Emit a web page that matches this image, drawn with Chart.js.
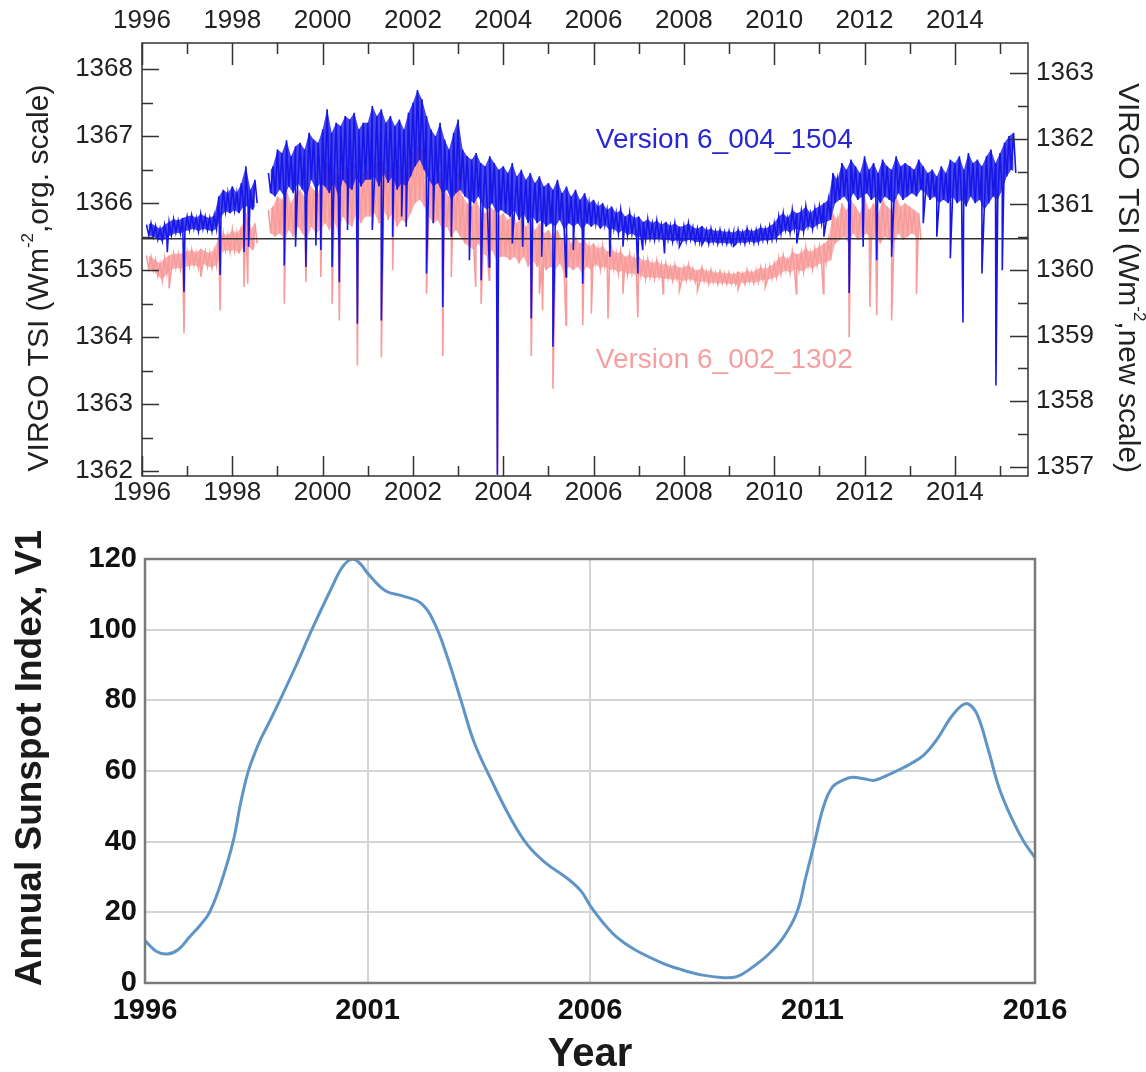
<!DOCTYPE html>
<html><head><meta charset="utf-8">
<script src="https://cdn.jsdelivr.net/npm/chart.js@4.4.0/dist/chart.umd.min.js"></script>
<style>
html,body{margin:0;padding:0;background:#fff;width:1146px;height:1072px;overflow:hidden}
#c1{position:absolute;left:0;top:0}
#c2{position:absolute;left:0;top:505px}
</style></head><body>
<canvas id="c1" width="1146" height="520"></canvas>
<canvas id="c2" width="1146" height="567"></canvas>
<script>
// ---------------- DATA: top panel (VIRGO TSI) ----------------
const yearTicks = [1996,1998,2000,2002,2004,2006,2008,2010,2012,2014];
const leftTicks = [1362,1363,1364,1365,1366,1367,1368];
const rightTicks = [1357,1358,1359,1360,1361,1362,1363];
const refLevel = 1365.47;

const blueStart = 1996.1; // 0.1-year steps
const blueHi = [
1365.68,1365.70,1365.66,1365.62,1365.68,1365.72,1365.76,1365.74,1365.78,
1365.80,1365.82,1365.78,1365.84,1365.80,1365.78,1365.82,1366.10,1366.20,1366.15,
1366.25,1366.15,1366.30,1366.55,1366.20,1366.35,null,null,1366.45,1366.55,
1366.80,1366.75,1366.94,1366.70,1366.85,1366.90,1366.80,1367.05,1366.95,1366.90,
1367.10,1367.40,1367.05,1367.20,1367.15,1367.30,1367.25,1367.35,1367.10,1367.20,
1367.20,1367.45,1367.30,1367.40,1367.20,1367.30,1367.15,1367.25,1367.10,1367.35,
1367.50,1367.69,1367.55,1367.30,1367.10,1367.00,1367.20,1366.95,1366.80,1367.05,
1367.25,1366.80,1366.70,1366.65,1366.75,1366.60,1366.55,1366.70,1366.60,1366.50,
1366.55,1366.45,1366.60,1366.40,1366.50,1366.35,1366.45,1366.30,1366.40,1366.25,
1366.30,1366.20,1366.35,1366.15,1366.25,1366.10,1366.20,1366.05,1366.15,1366.00,
1366.05,1365.95,1366.00,1365.90,1365.95,1365.85,1365.90,1365.80,1365.85,1365.78,
1365.80,1365.72,1365.76,1365.70,1365.74,1365.68,1365.72,1365.66,1365.70,1365.65,
1365.66,1365.70,1365.64,1365.62,1365.66,1365.60,1365.62,1365.58,1365.60,1365.57,
1365.58,1365.56,1365.60,1365.57,1365.62,1365.58,1365.60,1365.64,1365.62,1365.66,
1365.70,1365.80,1365.85,1365.78,1365.90,1365.85,1365.88,1365.95,1365.85,1365.92,
1365.95,1366.00,1366.05,1366.45,1366.35,1366.60,1366.50,1366.65,1366.55,1366.45,
1366.70,1366.50,1366.60,1366.45,1366.65,1366.55,1366.50,1366.70,1366.55,1366.60,
1366.55,1366.50,1366.65,1366.55,1366.45,1366.50,1366.40,1366.55,1366.45,1366.65,
1366.60,1366.70,1366.50,1366.75,1366.60,1366.65,1366.55,1366.70,1366.80,1366.60,
1366.75,1366.90,1367.00,1367.05
];
const blueLo = [
1365.52,1365.50,1365.46,1365.44,1365.50,1365.52,1365.56,1365.55,1365.58,
1365.60,1365.62,1365.58,1365.62,1365.60,1365.58,1365.62,1365.80,1365.88,1365.85,
1365.90,1365.85,1365.95,1365.95,1365.90,1366.00,null,null,1366.15,1366.10,
1366.20,1366.10,1366.25,1366.15,1366.30,1366.20,1366.10,1366.35,1366.20,1366.30,
1366.25,1366.15,1366.30,1366.10,1366.35,1366.25,1366.20,1366.40,1366.25,1366.35,
1366.35,1366.40,1366.25,1366.45,1366.30,1366.40,1366.20,1366.30,1366.25,1366.40,
1366.55,1366.65,1366.50,1366.35,1366.25,1366.30,1366.15,1366.20,1366.05,1366.15,
1366.20,1366.10,1366.05,1366.00,1366.10,1365.95,1365.90,1366.00,1365.85,1365.90,
1365.85,1365.80,1365.90,1365.75,1365.85,1365.70,1365.80,1365.70,1365.75,1365.65,
1365.70,1365.65,1365.75,1365.60,1365.70,1365.65,1365.70,1365.60,1365.70,1365.65,
1365.70,1365.62,1365.68,1365.60,1365.62,1365.55,1365.60,1365.52,1365.55,1365.50,
1365.50,1365.45,1365.48,1365.46,1365.48,1365.44,1365.46,1365.43,1365.45,1365.42,
1365.44,1365.46,1365.42,1365.42,1365.44,1365.40,1365.42,1365.40,1365.41,1365.40,
1365.40,1365.39,1365.42,1365.40,1365.43,1365.41,1365.42,1365.45,1365.44,1365.46,
1365.48,1365.55,1365.60,1365.56,1365.62,1365.60,1365.58,1365.66,1365.62,1365.68,
1365.70,1365.72,1365.75,1366.00,1366.05,1366.10,1366.00,1366.15,1366.05,1366.10,
1366.15,1366.05,1366.10,1366.00,1366.10,1366.05,1366.00,1366.15,1366.05,1366.10,
1366.15,1366.10,1366.20,1366.15,1366.05,1366.10,1366.00,1366.05,1366.00,1366.10,
1366.00,1366.05,1365.95,1366.10,1366.00,1366.05,1365.90,1366.00,1366.10,1366.05,
1366.20,1366.40,1366.50,1366.45
];
const blueDips = [
[1996.56,1365.27],[1996.93,1364.67],[1997.73,1364.93],[1998.26,1365.27],[1998.36,1365.35],
[1999.15,1365.07],[1999.40,1365.35],[1999.63,1365.05],[1999.85,1365.37],[1999.96,1365.30],
[2000.21,1365.05],[2000.37,1364.82],[2000.55,1365.60],[2000.77,1364.20],[2001.10,1365.60],
[2001.30,1364.25],[2001.55,1365.50],[2001.75,1365.80],[2001.85,1365.65],
[2002.30,1364.95],[2002.45,1365.70],[2002.66,1364.45],[2002.85,1365.50],[2003.25,1365.15],
[2003.51,1364.85],[2003.69,1365.05],[2003.87,1361.95],
[2004.20,1365.40],[2004.43,1365.35],[2004.62,1364.28],[2004.85,1365.20],[2005.10,1363.86],
[2005.39,1364.90],[2005.55,1365.30],[2005.76,1364.80],
[2006.36,1365.20],[2006.65,1365.35],[2006.98,1364.95],[2007.09,1365.30],[2007.57,1365.25],[2007.90,1365.35],
[2008.40,1365.38],[2009.10,1365.36],[2010.50,1365.40],[2011.10,1365.50],
[2011.66,1364.66],[2011.97,1365.35],[2012.27,1365.15],[2012.60,1365.20],[2013.30,1365.70],[2013.60,1365.50],
[2013.90,1365.18],[2014.18,1364.22],[2014.60,1364.95],[2014.91,1363.28],[2015.05,1365.00]
];

const pinkStart = 1996.1;
const pinkHi = [
1365.22,1365.20,1365.15,1365.10,1365.18,1365.22,1365.25,1365.24,1365.26,
1365.28,1365.30,1365.26,1365.32,1365.28,1365.26,1365.30,1365.50,1365.55,1365.52,
1365.60,1365.55,1365.65,1365.85,1365.60,1365.70,null,null,1365.90,1365.95,
1366.10,1366.05,1366.20,1366.00,1366.15,1366.20,1366.10,1366.30,1366.20,1366.15,
1366.35,1366.60,1366.30,1366.45,1366.40,1366.55,1366.50,1366.60,1366.35,1366.45,
1366.50,1366.70,1366.60,1366.65,1366.50,1366.55,1366.45,1366.55,1366.40,1366.60,
1366.75,1366.85,1366.80,1366.55,1366.35,1366.30,1366.45,1366.20,1366.10,1366.30,
1366.45,1366.10,1366.00,1365.95,1366.05,1365.90,1365.85,1365.95,1365.90,1365.80,
1365.85,1365.75,1365.85,1365.70,1365.80,1365.65,1365.75,1365.60,1365.70,1365.55,
1365.60,1365.50,1365.60,1365.45,1365.55,1365.40,1365.50,1365.40,1365.45,1365.35,
1365.40,1365.32,1365.36,1365.28,1365.32,1365.25,1365.28,1365.20,1365.24,1365.18,
1365.20,1365.14,1365.16,1365.10,1365.14,1365.08,1365.10,1365.05,1365.08,1365.04,
1365.04,1365.08,1365.02,1365.00,1365.04,1364.98,1365.00,1364.96,1364.98,1364.95,
1364.96,1364.94,1364.98,1364.95,1365.00,1364.97,1365.00,1365.04,1365.02,1365.06,
1365.10,1365.18,1365.22,1365.16,1365.28,1365.24,1365.26,1365.34,1365.26,1365.32,
1365.35,1365.40,1365.45,1365.85,1365.75,1366.00,1365.90,1366.05,1365.95,1365.85,
1366.10,1365.90,1366.00,1365.85,1366.05,1365.95,1365.90,1366.10,1365.95,1366.00,
1365.95,1365.90,1365.85
];
const pinkLo = [
1365.02,1365.00,1364.92,1364.85,1364.95,1365.00,1365.04,1365.02,1365.05,
1365.06,1365.08,1365.04,1365.10,1365.06,1365.04,1365.08,1365.25,1365.30,1365.28,
1365.30,1365.25,1365.35,1365.35,1365.30,1365.40,null,null,1365.55,1365.50,
1365.55,1365.45,1365.60,1365.50,1365.65,1365.55,1365.45,1365.65,1365.55,1365.60,
1365.70,1365.60,1365.75,1365.55,1365.80,1365.70,1365.65,1365.85,1365.70,1365.80,
1365.80,1365.85,1365.70,1365.90,1365.75,1365.85,1365.65,1365.75,1365.70,1365.85,
1366.00,1366.05,1365.95,1365.80,1365.70,1365.75,1365.60,1365.65,1365.50,1365.60,
1365.50,1365.40,1365.35,1365.30,1365.40,1365.25,1365.20,1365.30,1365.15,1365.20,
1365.20,1365.15,1365.20,1365.10,1365.20,1365.05,1365.15,1365.05,1365.10,1365.00,
1365.05,1365.00,1365.10,1364.95,1365.05,1365.00,1365.05,1364.95,1365.05,1365.00,
1365.10,1365.02,1365.06,1365.00,1365.02,1364.96,1365.00,1364.94,1364.96,1364.92,
1364.92,1364.88,1364.90,1364.88,1364.90,1364.86,1364.88,1364.85,1364.87,1364.84,
1364.85,1364.87,1364.83,1364.82,1364.84,1364.80,1364.82,1364.80,1364.81,1364.80,
1364.80,1364.79,1364.82,1364.80,1364.83,1364.81,1364.83,1364.86,1364.85,1364.88,
1364.90,1364.95,1365.00,1364.96,1365.02,1365.00,1364.98,1365.06,1365.02,1365.08,
1365.10,1365.12,1365.15,1365.40,1365.45,1365.50,1365.40,1365.55,1365.45,1365.50,
1365.55,1365.45,1365.50,1365.40,1365.50,1365.45,1365.40,1365.55,1365.45,1365.50,
1365.55,1365.50,1365.45
];
const pinkDips = [
[1996.60,1364.73],[1996.93,1364.06],[1997.30,1364.90],[1997.73,1364.40],[1998.26,1364.75],[1998.34,1364.80],
[1999.15,1364.50],[1999.63,1364.83],[1999.96,1364.90],[2000.21,1364.50],[2000.37,1364.25],[2000.77,1363.58],
[2001.30,1363.70],[2001.55,1365.00],[2002.30,1364.65],[2002.66,1363.72],[2002.85,1364.90],
[2003.39,1364.75],[2003.51,1364.50],[2003.69,1364.85],[2003.87,1361.95],
[2004.62,1363.72],[2004.80,1364.65],[2004.87,1364.40],[2005.10,1363.23],[2005.39,1364.18],[2005.76,1364.18],
[2005.95,1364.35],[2006.32,1364.28],[2006.65,1364.65],[2006.98,1364.30],[2007.54,1364.65],[2007.90,1364.70],
[2008.30,1364.70],[2009.20,1364.72],[2009.80,1364.75],[2010.49,1364.65],[2011.09,1364.65],
[2011.66,1364.00],[2012.12,1364.45],[2012.27,1364.33],[2012.60,1364.25],[2013.15,1364.65]
];

// ---------------- DATA: bottom panel (sunspot index) ----------------
const ssXTicks = [1996,2001,2006,2011,2016];
const ssYTicks = [0,20,40,60,80,100,120];
const ssYears = [1996.0,1996.25,1996.5,1996.75,1997.0,1997.25,1997.45,1997.7,1997.98,1998.15,1998.3,1998.45,1998.6,1998.8,1999.03,1999.4,1999.75,
2000.2,2000.45,2000.67,2000.85,2001.0,2001.4,2001.8,2002.2,2002.5,2002.8,2003.1,2003.4,2003.8,2004.2,2004.6,2005.0,
2005.5,2005.8,2006.0,2006.3,2006.6,2007.0,2007.6,2008.0,2008.5,2009.0,2009.3,2009.6,2010.0,2010.35,2010.65,2010.85,
2011.05,2011.25,2011.45,2011.7,2011.9,2012.15,2012.4,2012.8,2013.2,2013.5,2013.8,2014.1,2014.35,2014.5,2014.7,2014.95,
2015.2,2015.5,2015.75,2016.0];
const ssValues = [12,9,8.2,9.5,13,16.5,20,28,40,51,59,64.5,69,74,80,90,100,
112,118,120,118.5,116,111,109.5,107.5,102,92,80,68,57,47,39,34,
29.5,26,22,17,13,9.5,5.8,4,2.3,1.5,1.8,4,8,13,20,30,
40,50,55.5,57.5,58.2,57.8,57.4,59.5,62,64.5,69,75,78.5,79,76,66,
55,46,40,35.5];

// ---------------- helpers ----------------
const FONT = '"Liberation Sans", Arial, Helvetica, sans-serif';
const BLUE = 'rgb(22,22,232)';
const PINK = 'rgb(248,155,155)';

function tGrid(start, n, off){
  const out = [];
  for (let i = 0; i < n; i++) out.push(Math.round((start + i*0.1)*100)/100 + off);
  return out;
}
function buildBand(start, hi, lo, dips){
  const th = tGrid(start, hi.length, 0), tl = tGrid(start, lo.length, 0.05);
  const pts = [];
  hi.forEach((v,i) => pts.push({x:th[i], y:v}));
  lo.forEach((v,i) => pts.push({x:tl[i], y:v}));
  dips.forEach(d => pts.push({x:d[0], y:d[1]}));
  pts.sort((a,b) => a.x - b.x);
  return pts;
}
function edge(start, vals, off){
  const t = tGrid(start, vals.length, off);
  return vals.map((v,i) => ({x:t[i], y:v}));
}
function richText(ctx, parts, cx, cy, rot, size, weight, color){
  ctx.save();
  ctx.translate(cx, cy); ctx.rotate(rot);
  const main = (weight||'') + ' ' + size + 'px ' + FONT;
  const sup = (weight||'') + ' ' + Math.round(size*0.55) + 'px ' + FONT;
  let w = 0;
  parts.forEach(p => { ctx.font = p.sup ? sup : main; p.w = ctx.measureText(p.t).width; w += p.w; });
  let x = -w/2;
  ctx.textBaseline = 'middle'; ctx.textAlign = 'left'; ctx.fillStyle = color || '#222';
  parts.forEach(p => { ctx.font = p.sup ? sup : main; ctx.fillText(p.t, x, p.sup ? -size*0.4 : 0); x += p.w; });
  ctx.restore();
}
const setTicks = arr => s => { s.ticks = arr.map(v => ({value:v})); };

// ---------------- top chart ----------------
const topDecor = {
  id:'topDecor',
  afterDraw(chart){
    const {ctx, chartArea:a, scales} = chart;
    ctx.save();
    ctx.strokeStyle = '#333'; ctx.lineWidth = 1.5;
    ctx.strokeRect(a.left, a.top, a.right - a.left, a.bottom - a.top);
    ctx.beginPath();
    for (let yr = 1996; yr <= 2015; yr++){
      const major = yr % 2 === 0;
      const px = Math.round(scales.x.getPixelForValue(yr)) + 0.5;
      ctx.moveTo(px, a.bottom); ctx.lineTo(px, a.bottom - (major ? 20 : 10));
      const px2 = Math.round(scales.x2.getPixelForValue(yr)) + 0.5;
      ctx.moveTo(px2, a.top); ctx.lineTo(px2, a.top + (major ? 22 : 11));
    }
    for (let v = 1362; v <= 1368.01; v += 0.5){
      const py = Math.round(scales.y.getPixelForValue(v)) + 0.5;
      ctx.moveTo(a.left, py); ctx.lineTo(a.left + (v % 1 === 0 ? 17 : 11), py);
    }
    for (let v = 1357; v <= 1363.01; v += 0.5){
      const py = Math.round(scales.y2.getPixelForValue(v)) + 0.5;
      ctx.moveTo(a.right, py); ctx.lineTo(a.right - (v % 1 === 0 ? 18 : 10), py);
    }
    ctx.stroke();
    ctx.restore();
    richText(ctx, [{t:'VIRGO TSI (Wm'},{t:'-2',sup:true},{t:',org. scale)'}], 40, 278, -Math.PI/2, 30, '', '#222');
    richText(ctx, [{t:'VIRGO TSI (Wm'},{t:'-2',sup:true},{t:',new scale)'}], 1127, 278, Math.PI/2, 30, '', '#222');
    ctx.save();
    ctx.font = '28px ' + FONT; ctx.textBaseline = 'middle'; ctx.textAlign = 'left';
    ctx.fillStyle = 'rgb(40,40,210)';
    ctx.fillText('Version 6_004_1504', scales.x.getPixelForValue(2006.05), scales.y.getPixelForValue(1366.94));
    ctx.fillStyle = 'rgb(245,160,160)';
    ctx.fillText('Version 6_002_1302', scales.x.getPixelForValue(2006.05), scales.y.getPixelForValue(1363.66));
    ctx.restore();
  }
};
const tickFont = {family:FONT, size:26};
const thin = {pointRadius:0, borderWidth:0, spanGaps:false};
new Chart(document.getElementById('c1'), {
  type:'line',
  data:{datasets:[
    {label:'Version 6_004_1504', data:buildBand(blueStart, blueHi, blueLo, blueDips), borderColor:BLUE, borderWidth:1.6, pointRadius:0, spanGaps:false, order:1},
    {label:'v6_004 upper', data:edge(blueStart, blueHi, 0), fill:'+1', backgroundColor:'rgba(22,22,232,0.8)', borderColor:'rgba(0,0,0,0)', ...thin, order:2},
    {label:'v6_004 lower', data:edge(blueStart, blueLo, 0.05), fill:false, borderColor:'rgba(0,0,0,0)', ...thin, order:2},
    {label:'reference', data:[{x:1996,y:refLevel},{x:2015.62,y:refLevel}], borderColor:'#333', borderWidth:1.6, pointRadius:0, order:3},
    {label:'Version 6_002_1302', data:buildBand(pinkStart, pinkHi, pinkLo, pinkDips), borderColor:PINK, borderWidth:1.6, pointRadius:0, spanGaps:false, order:4},
    {label:'v6_002 upper', data:edge(pinkStart, pinkHi, 0), fill:'+1', backgroundColor:'rgba(248,155,155,0.8)', borderColor:'rgba(0,0,0,0)', ...thin, order:5},
    {label:'v6_002 lower', data:edge(pinkStart, pinkLo, 0.05), fill:false, borderColor:'rgba(0,0,0,0)', ...thin, order:5}
  ]},
  options:{
    responsive:false, animation:false, events:[],
    layout:{padding:0},
    plugins:{legend:{display:false}, tooltip:{enabled:false}, filler:{propagate:false}},
    scales:{
      x:{type:'linear', position:'bottom', min:1996, max:2015.62, afterBuildTicks:setTicks(yearTicks), afterFit:s=>{s.height=44;},
         grid:{display:false, drawTicks:false}, border:{display:false},
         ticks:{autoSkip:false, maxRotation:0, padding:1, color:'#222', font:tickFont, callback:v=>String(v)}},
      x2:{type:'linear', position:'top', min:1996, max:2015.62, afterBuildTicks:setTicks(yearTicks), afterFit:s=>{s.height=43;},
         grid:{display:false, drawTicks:false}, border:{display:false},
         ticks:{autoSkip:false, maxRotation:0, padding:7, color:'#222', font:tickFont, callback:v=>String(v)}},
      y:{type:'linear', position:'left', min:1361.93, max:1368.39, afterBuildTicks:setTicks(leftTicks), afterFit:s=>{s.width=142;},
         grid:{display:false, drawTicks:false}, border:{display:false},
         ticks:{autoSkip:false, padding:9, color:'#222', font:tickFont, callback:v=>String(v)}},
      y2:{type:'linear', position:'right', min:1356.86, max:1363.46, afterBuildTicks:setTicks(rightTicks), afterFit:s=>{s.width=118;},
         grid:{display:false, drawTicks:false}, border:{display:false},
         ticks:{autoSkip:false, padding:8, color:'#222', font:tickFont, callback:v=>String(v)}}
    }
  },
  plugins:[topDecor]
});

// ---------------- bottom chart ----------------
const bottomDecor = {
  id:'bottomDecor',
  afterDraw(chart){
    const {ctx, chartArea:a} = chart;
    ctx.save();
    ctx.strokeStyle = '#7a7a7a'; ctx.lineWidth = 2.5;
    ctx.strokeRect(a.left, a.top, a.right - a.left, a.bottom - a.top);
    ctx.restore();
    richText(ctx, [{t:'Annual Sunspot Index, V1'}], 31, 253, -Math.PI/2, 37, 'bold', '#1a1a1a');
    richText(ctx, [{t:'Year'}], 590, 550, 0, 40, 'bold', '#1a1a1a');
  }
};
const ssFont = {family:FONT, size:29, weight:'bold'};
new Chart(document.getElementById('c2'), {
  type:'line',
  data:{datasets:[
    {label:'Annual Sunspot Index, V1', data:ssYears.map((x,i)=>({x, y:ssValues[i]})), borderColor:'#5f95c6', borderWidth:3, pointRadius:0, tension:0.4}
  ]},
  options:{
    responsive:false, animation:false, events:[],
    layout:{padding:{top:54, right:111, left:0, bottom:0}},
    plugins:{legend:{display:false}, tooltip:{enabled:false}},
    scales:{
      x:{type:'linear', min:1996, max:2016, afterBuildTicks:setTicks(ssXTicks), afterFit:s=>{s.height=89;},
         grid:{color:'#d4d4d4', lineWidth:2, drawTicks:false}, border:{display:false},
         ticks:{autoSkip:false, maxRotation:0, padding:11, color:'#111', font:ssFont, callback:v=>String(v)}},
      y:{type:'linear', min:0, max:120, afterBuildTicks:setTicks(ssYTicks), afterFit:s=>{s.width=145;},
         grid:{color:'#d4d4d4', lineWidth:2, drawTicks:false}, border:{display:false},
         ticks:{autoSkip:false, padding:8, color:'#111', font:ssFont, callback:v=>String(v)}}
    }
  },
  plugins:[bottomDecor]
});
</script>
</body></html>
